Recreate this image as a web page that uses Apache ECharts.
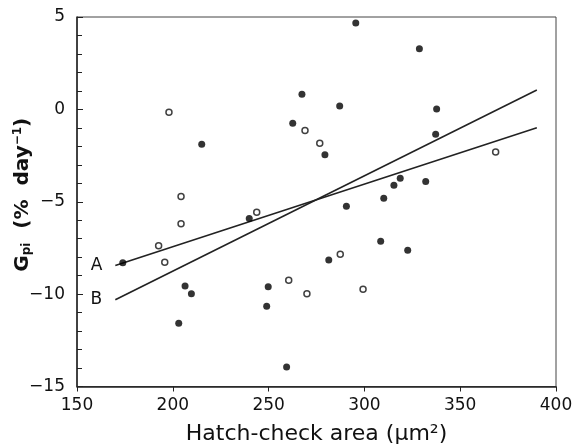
<!DOCTYPE html>
<html><head><meta charset="utf-8">
<script src="https://cdn.jsdelivr.net/npm/echarts@6/dist/echarts.min.js"></script>
<style>html,body{margin:0;padding:0;background:#fff}#c{width:584px;height:445px}</style>
</head><body><div id="c"></div>
<script>
// Filled circles
const filledArea = [173.9, 215.1, 267.4, 287.1, 262.6, 279.4, 295.5, 328.7, 337.7, 337.2, 318.7, 315.4, 332.0, 310.1, 290.6, 239.9, 206.4, 209.7, 203.1, 249.8, 249.0, 259.4, 281.4, 308.5, 322.6];
const filledGpi  = [-8.30, -1.89, 0.82, 0.18, -0.75, -2.45, 4.68, 3.28, 0.02, -1.35, -3.73, -4.11, -3.91, -4.81, -5.25, -5.90, -9.56, -9.98, -11.58, -9.60, -10.66, -13.94, -8.15, -7.14, -7.63];
// Open circles
const openArea = [198.0, 204.3, 204.3, 269.0, 276.7, 243.8, 192.6, 195.8, 260.5, 270.0, 287.4, 299.3, 368.5];
const openGpi  = [-0.16, -4.71, -6.19, -1.15, -1.84, -5.57, -7.38, -8.28, -9.25, -9.98, -7.84, -9.74, -2.31];
// Regression lines
const lineArea = [170, 390];
const lineA = [-8.45, -1.0];
const lineB = [-10.3, 1.05];
const lineNames = ['A', 'B'];
// Axes
const xTicks = [150, 200, 250, 300, 350, 400];
const yTicks = [-15, -10, -5, 0, 5];

const font = 'DejaVu Sans';
const zip = (a, b) => a.map((v, i) => [v, b[i]]);
const lineData = (ys, name) => [
  {value: [lineArea[0], ys[0]], label: {show: true, formatter: name, position: 'left', distance: 13,
    color: '#111', fontFamily: font, fontSize: 17}},
  {value: [lineArea[1], ys[1]]}
];

const chart = echarts.init(document.getElementById('c'), null, {renderer: 'canvas'});
chart.setOption({
  animation: false,
  backgroundColor: '#fff',
  grid: {left: 77, right: 28, top: 17, bottom: 58.5, show: true, borderColor: '#444', borderWidth: 1,
    backgroundColor: 'transparent', containLabel: false, outerBoundsMode: 'none'},
  xAxis: {
    type: 'value', min: xTicks[0], max: xTicks[xTicks.length - 1], interval: 50,
    name: 'Hatch-check area (μm²)', nameLocation: 'middle', nameGap: 37, nameMoveOverlap: false,
    nameTextStyle: {fontFamily: font, fontSize: 22, color: '#111'},
    axisLine: {onZero: false, lineStyle: {color: '#222', width: 1.5}},
    axisTick: {show: true, length: 5, lineStyle: {color: '#222', width: 1}},
    axisLabel: {fontFamily: font, fontSize: 17, color: '#111', margin: 11},
    splitLine: {show: false}
  },
  yAxis: {
    type: 'value', min: yTicks[0], max: yTicks[yTicks.length - 1], interval: 5,
    name: '{g|G}{sub|pi}{g|  (%  day}{sup|−1}{g|)}', nameLocation: 'middle', nameGap: 44, nameMoveOverlap: false,
    nameTextStyle: {
      padding: [0, 0, 0, 14],
      rich: {
        g: {fontFamily: font, fontSize: 20, fontWeight: 'bold', color: '#111'},
        sub: {fontFamily: font, fontSize: 12, fontWeight: 'bold', color: '#111', verticalAlign: 'bottom', padding: [9, 0, 0, 0]},
        sup: {fontFamily: font, fontSize: 12, fontWeight: 'bold', color: '#111', verticalAlign: 'top', padding: [0, 0, 9, 0]}
      }
    },
    axisLine: {onZero: false, lineStyle: {color: '#222', width: 1.5}},
    axisTick: {show: true, inside: true, length: 6, lineStyle: {color: '#222', width: 1}},
    minorTick: {show: true, splitNumber: 5, length: 5, lineStyle: {color: '#222', width: 1}},
    axisLabel: {fontFamily: font, fontSize: 17, color: '#111', margin: 12,
      formatter: v => v < 0 ? '\u2212' + Math.abs(v) : String(v)},
    splitLine: {show: false}
  },
  series: [
    {type: 'line', data: lineData(lineA, lineNames[0]), symbol: 'circle', symbolSize: 0.1,
      itemStyle: {color: '#222'}, lineStyle: {color: '#222', width: 1.6}, z: 2},
    {type: 'line', data: lineData(lineB, lineNames[1]), symbol: 'circle', symbolSize: 0.1,
      itemStyle: {color: '#222'}, lineStyle: {color: '#222', width: 1.6}, z: 2},
    {type: 'scatter', data: zip(filledArea, filledGpi), symbol: 'circle', symbolSize: 7,
      itemStyle: {color: '#000'}, z: 3},
    {type: 'scatter', data: zip(openArea, openGpi), symbol: 'circle', symbolSize: 6,
      itemStyle: {color: '#fff', borderColor: '#111', borderWidth: 1.5}, z: 3}
  ]
});
</script></body></html>
